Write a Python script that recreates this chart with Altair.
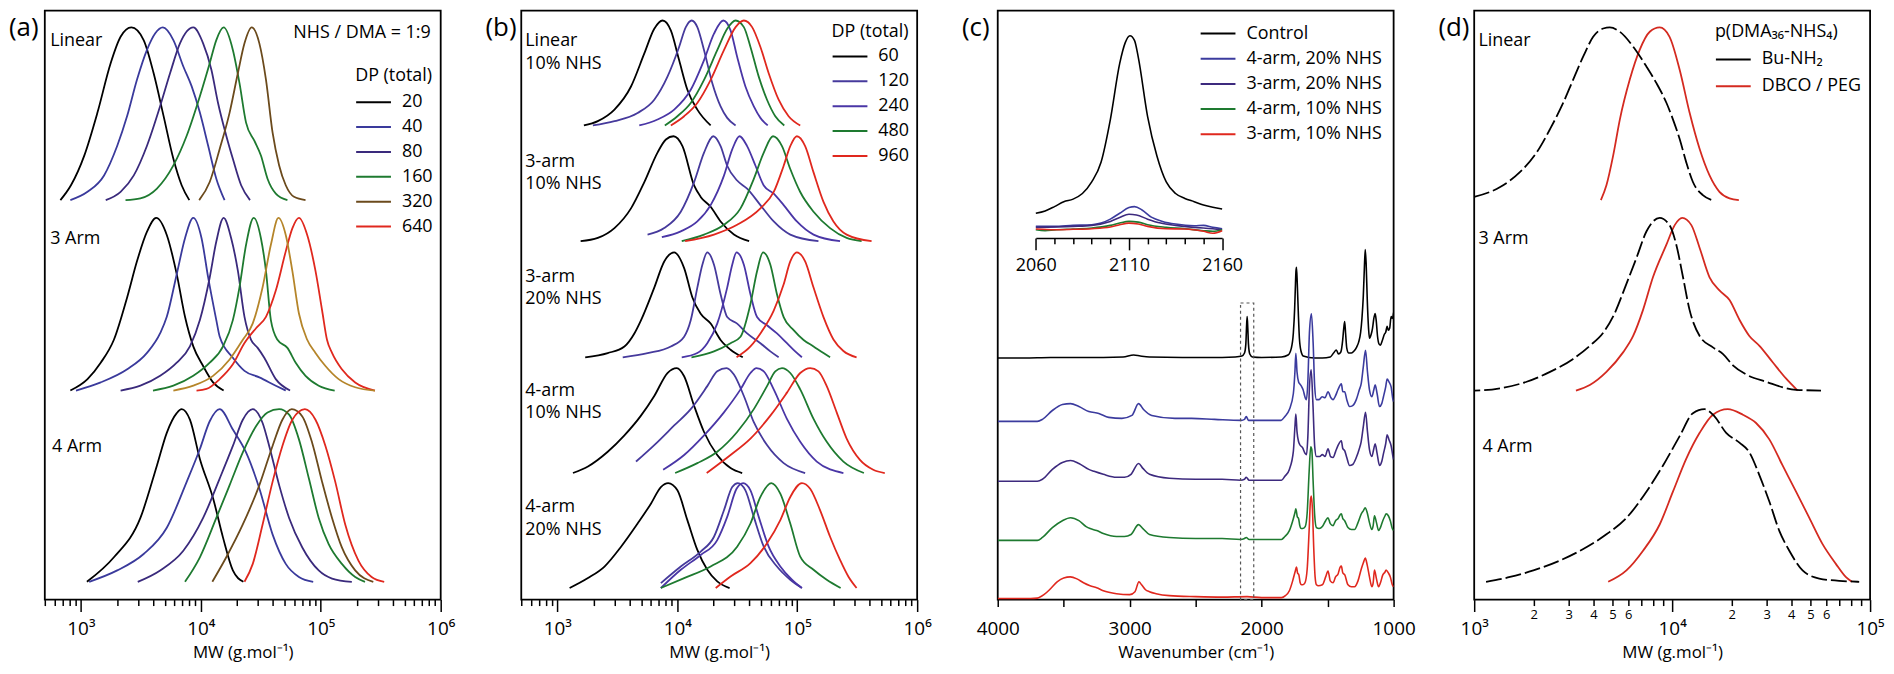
import altair as alt
import pandas as pd

FONT = "Open Sans"
W, H = 398, 592
K = H / 597.0
LW = 1.8

# ---------------- (a) GPC traces: log10(MW) and normalised RI ----------------
A_SERIES = ["20", "40", "80", "160", "320", "640"]
A_COLORS = ["#000000", "#3a3a9c", "#3a2a7c", "#1e7a30", "#6b4a1c", "#e0281e"]
A_OFFSETS = {"Linear": 2.314, "3 Arm": 1.211, "4 Arm": 0.103}

A_LINEAR = {
    "20": ([2.829, 2.917, 3.028, 3.138, 3.248, 3.331, 3.421, 3.523, 3.606, 3.689, 3.771, 3.840, 3.904],
           [0, 0.086, 0.258, 0.507, 0.793, 0.946, 1, 0.927, 0.736, 0.488, 0.239, 0.086, 0]),
    "40": ([2.912, 3.055, 3.193, 3.303, 3.386, 3.468, 3.551, 3.620, 3.683, 3.771, 3.854, 3.923, 3.992, 4.061, 4.129, 4.198],
           [0, 0.048, 0.143, 0.315, 0.488, 0.698, 0.870, 0.966, 1, 0.927, 0.774, 0.660, 0.507, 0.315, 0.124, 0]),
    "80": ([3.207, 3.331, 3.441, 3.551, 3.661, 3.744, 3.826, 3.937, 4.019, 4.088, 4.143, 4.212, 4.267, 4.336, 4.410],
           [0, 0.048, 0.143, 0.315, 0.545, 0.736, 0.908, 1, 0.908, 0.755, 0.564, 0.373, 0.239, 0.086, 0]),
    "160": ([3.372, 3.496, 3.634, 3.771, 3.882, 3.992, 4.074, 4.129, 4.190, 4.267, 4.322, 4.377, 4.446, 4.501, 4.556, 4.625, 4.722],
            [0, 0.010, 0.067, 0.201, 0.373, 0.602, 0.793, 0.927, 1, 0.870, 0.679, 0.449, 0.344, 0.258, 0.124, 0.038, 0]),
    "320": ([3.986, 4.074, 4.157, 4.240, 4.309, 4.364, 4.424, 4.488, 4.543, 4.598, 4.653, 4.708, 4.777, 4.873],
            [0, 0.105, 0.296, 0.507, 0.736, 0.908, 1, 0.908, 0.698, 0.392, 0.201, 0.086, 0.019, 0]),
}
A_3ARM = {
    "20": ([2.912, 3.055, 3.165, 3.275, 3.386, 3.468, 3.551, 3.628, 3.716, 3.799, 3.868, 3.937, 4.019, 4.102, 4.190],
           [0, 0.066, 0.161, 0.294, 0.541, 0.750, 0.920, 1, 0.901, 0.674, 0.427, 0.256, 0.142, 0.047, 0]),
    "40": ([2.959, 3.165, 3.386, 3.551, 3.661, 3.716, 3.799, 3.868, 3.937, 4.006, 4.061, 4.129, 4.157, 4.267, 4.364, 4.488, 4.625, 4.708],
           [0, 0.047, 0.123, 0.218, 0.332, 0.427, 0.674, 0.882, 1, 0.882, 0.655, 0.408, 0.313, 0.190, 0.114, 0.076, 0.028, 0]),
    "80": ([3.331, 3.496, 3.661, 3.799, 3.909, 3.992, 4.074, 4.129, 4.190, 4.253, 4.309, 4.364, 4.419, 4.474, 4.529, 4.625, 4.744],
           [0, 0.028, 0.085, 0.161, 0.256, 0.408, 0.655, 0.863, 1, 0.882, 0.693, 0.427, 0.294, 0.247, 0.190, 0.066, 0]),
    "160": ([3.601, 3.771, 3.937, 4.074, 4.185, 4.267, 4.322, 4.377, 4.441, 4.501, 4.543, 4.584, 4.639, 4.722, 4.791, 4.873, 4.983, 5.116],
            [0, 0.028, 0.085, 0.161, 0.256, 0.408, 0.598, 0.844, 1, 0.882, 0.693, 0.408, 0.294, 0.247, 0.161, 0.085, 0.028, 0]),
    "320": ([3.771, 3.937, 4.102, 4.240, 4.350, 4.433, 4.515, 4.584, 4.647, 4.708, 4.763, 4.818, 4.887, 4.956, 5.039, 5.149, 5.287, 5.452],
            [0, 0.028, 0.085, 0.180, 0.294, 0.389, 0.598, 0.844, 1, 0.901, 0.693, 0.446, 0.294, 0.218, 0.142, 0.066, 0.019, 0]),
    "640": ([3.964, 4.047, 4.157, 4.267, 4.364, 4.460, 4.543, 4.625, 4.708, 4.763, 4.818, 4.887, 4.956, 5.011, 5.052, 5.094, 5.176, 5.287, 5.452],
            [0, 0.009, 0.066, 0.152, 0.275, 0.361, 0.427, 0.579, 0.806, 0.939, 1, 0.901, 0.693, 0.465, 0.294, 0.218, 0.123, 0.047, 0]),
}
A_4ARM = {
    "20": ([3.050, 3.275, 3.496, 3.634, 3.716, 3.799, 3.840, 3.909, 3.992, 4.102, 4.185, 4.267, 4.355],
           [0, 0.142, 0.370, 0.674, 0.863, 0.977, 1, 0.939, 0.712, 0.484, 0.256, 0.066, 0]),
    "40": ([3.069, 3.303, 3.523, 3.716, 3.882, 3.992, 4.074, 4.157, 4.267, 4.377, 4.488, 4.598, 4.708, 4.818, 4.937],
           [0, 0.066, 0.161, 0.313, 0.579, 0.769, 0.930, 1, 0.882, 0.750, 0.541, 0.275, 0.104, 0.028, 0]),
    "80": ([3.474, 3.661, 3.854, 4.019, 4.157, 4.267, 4.350, 4.433, 4.515, 4.570, 4.653, 4.736, 4.846, 4.983, 5.094, 5.259],
           [0, 0.066, 0.180, 0.370, 0.598, 0.787, 0.939, 1, 0.920, 0.787, 0.560, 0.370, 0.199, 0.066, 0.019, 0]),
    "160": ([3.868, 3.992, 4.129, 4.240, 4.350, 4.460, 4.556, 4.653, 4.736, 4.818, 4.901, 4.983, 5.066, 5.176, 5.287, 5.369],
            [0, 0.142, 0.370, 0.560, 0.750, 0.901, 0.981, 1, 0.968, 0.825, 0.598, 0.370, 0.218, 0.104, 0.028, 0]),
    "320": ([4.096, 4.212, 4.350, 4.488, 4.598, 4.680, 4.758, 4.846, 4.928, 5.011, 5.094, 5.176, 5.287, 5.438],
            [0, 0.142, 0.332, 0.560, 0.787, 0.939, 1, 0.958, 0.806, 0.579, 0.370, 0.199, 0.066, 0]),
    "640": ([4.364, 4.433, 4.515, 4.598, 4.680, 4.763, 4.868, 4.956, 5.039, 5.121, 5.204, 5.314, 5.424, 5.529],
            [0, 0.104, 0.332, 0.579, 0.787, 0.939, 1, 0.939, 0.787, 0.579, 0.332, 0.123, 0.028, 0]),
}
A_NOTES = [("Linear", 555, 3.234), ("3 Arm", 555, 2.086), ("4 Arm", 575, 0.886)]
A_RATIO_NOTE = [("NHS / DMA = 1:9", 826000, 3.280)]

# ---------------- (b) ----------------
B_SERIES = ["60", "120", "240", "480", "960"]
B_COLORS = ["#000000", "#463a9c", "#4a36a6", "#1e7a30", "#e0281e"]
B_OFFSETS = {"Linear 10%": 4.518, "3-arm 10%": 3.415, "3-arm 20%": 2.309, "4-arm 10%": 1.206, "4-arm 20%": 0.110}

B_LINEAR = {
    "60": ([3.221, 3.337, 3.476, 3.614, 3.725, 3.808, 3.877, 3.946, 4.015, 4.084, 4.167, 4.278],
           [0, 0.041, 0.151, 0.371, 0.686, 0.921, 1, 0.906, 0.623, 0.340, 0.151, 0]),
    "120": ([3.296, 3.476, 3.669, 3.808, 3.918, 4.015, 4.071, 4.120, 4.167, 4.223, 4.292, 4.361, 4.416, 4.486],
            [0, 0.041, 0.119, 0.245, 0.465, 0.748, 0.937, 1, 0.937, 0.717, 0.403, 0.182, 0.072, 0]),
    "240": ([3.683, 3.835, 3.974, 4.112, 4.223, 4.306, 4.383, 4.444, 4.499, 4.568, 4.638, 4.693, 4.754],
            [0, 0.057, 0.151, 0.340, 0.623, 0.874, 1, 0.906, 0.654, 0.371, 0.182, 0.072, 0]),
    "480": ([3.896, 4.001, 4.112, 4.223, 4.333, 4.416, 4.486, 4.555, 4.610, 4.679, 4.748, 4.817, 4.892],
            [0, 0.088, 0.214, 0.434, 0.717, 0.921, 1, 0.937, 0.748, 0.465, 0.245, 0.088, 0]),
    "960": ([3.946, 4.057, 4.167, 4.278, 4.389, 4.486, 4.555, 4.624, 4.693, 4.762, 4.845, 4.928, 5.025],
            [0, 0.088, 0.214, 0.434, 0.717, 0.937, 1, 0.937, 0.748, 0.497, 0.245, 0.088, 0]),
}
B_3ARM10 = {
    "60": ([3.194, 3.337, 3.476, 3.614, 3.725, 3.835, 3.905, 3.968, 4.043, 4.140, 4.195, 4.278, 4.361, 4.472, 4.599],
           [0, 0.031, 0.125, 0.313, 0.563, 0.844, 0.969, 1, 0.906, 0.531, 0.422, 0.328, 0.188, 0.063, 0]),
    "120": ([3.752, 3.891, 4.029, 4.140, 4.223, 4.300, 4.361, 4.416, 4.499, 4.582, 4.693, 4.804, 4.942, 5.177],
            [0.063, 0.125, 0.281, 0.563, 0.844, 1, 0.906, 0.719, 0.578, 0.5, 0.344, 0.188, 0.063, 0]),
    "240": ([3.871, 4.029, 4.167, 4.278, 4.389, 4.458, 4.519, 4.582, 4.652, 4.721, 4.804, 4.887, 4.997, 5.136, 5.357],
            [0.038, 0.094, 0.188, 0.344, 0.625, 0.875, 1, 0.906, 0.719, 0.531, 0.453, 0.344, 0.188, 0.063, 0]),
    "480": ([4.037, 4.223, 4.389, 4.527, 4.638, 4.721, 4.798, 4.873, 4.942, 5.025, 5.136, 5.274, 5.412, 5.537],
            [0, 0.063, 0.156, 0.313, 0.594, 0.844, 1, 0.906, 0.688, 0.469, 0.281, 0.125, 0.031, 0]),
    "960": ([4.065, 4.306, 4.499, 4.693, 4.804, 4.887, 4.942, 4.997, 5.066, 5.136, 5.219, 5.302, 5.412, 5.620],
            [0, 0.063, 0.156, 0.313, 0.469, 0.719, 0.906, 1, 0.906, 0.656, 0.375, 0.188, 0.063, 0]),
}
B_3ARM20 = {
    "60": ([3.232, 3.420, 3.559, 3.642, 3.697, 3.808, 3.891, 3.974, 4.057, 4.126, 4.195, 4.278, 4.361, 4.444, 4.546],
           [0, 0.040, 0.103, 0.227, 0.352, 0.664, 0.913, 1, 0.850, 0.570, 0.414, 0.321, 0.165, 0.072, 0]),
    "120": ([3.545, 3.752, 3.946, 4.057, 4.112, 4.167, 4.209, 4.250, 4.306, 4.361, 4.416, 4.499, 4.582, 4.693, 4.776, 4.845],
            [0, 0.040, 0.103, 0.196, 0.352, 0.664, 0.882, 1, 0.882, 0.601, 0.383, 0.321, 0.227, 0.134, 0.056, 0]),
    "240": ([4.037, 4.167, 4.250, 4.333, 4.416, 4.458, 4.494, 4.555, 4.610, 4.665, 4.748, 4.831, 4.914, 4.983, 5.039],
            [0, 0.040, 0.134, 0.321, 0.664, 0.882, 1, 0.882, 0.601, 0.383, 0.305, 0.227, 0.134, 0.056, 0]),
    "480": ([4.118, 4.306, 4.444, 4.527, 4.610, 4.665, 4.715, 4.776, 4.831, 4.887, 4.970, 5.053, 5.136, 5.219, 5.274],
            [0, 0.056, 0.134, 0.196, 0.508, 0.819, 1, 0.882, 0.601, 0.383, 0.259, 0.165, 0.103, 0.040, 0]),
    "960": ([4.494, 4.610, 4.693, 4.804, 4.887, 4.942, 4.997, 5.066, 5.136, 5.219, 5.302, 5.385, 5.495],
            [0, 0.103, 0.227, 0.445, 0.695, 0.913, 1, 0.913, 0.664, 0.383, 0.170, 0.060, 0]),
}
B_4ARM10 = {
    "60": ([3.130, 3.255, 3.420, 3.559, 3.697, 3.808, 3.918, 3.996, 4.057, 4.140, 4.223, 4.333, 4.444, 4.541],
           [0, 0.063, 0.203, 0.359, 0.547, 0.734, 0.953, 1, 0.922, 0.641, 0.391, 0.172, 0.047, 0]),
    "120": ([3.656, 3.808, 3.974, 4.112, 4.250, 4.333, 4.411, 4.472, 4.555, 4.638, 4.748, 4.887, 5.066],
            [0.109, 0.266, 0.453, 0.609, 0.828, 0.969, 1, 0.938, 0.734, 0.484, 0.266, 0.094, 0]),
    "240": ([3.882, 4.057, 4.223, 4.389, 4.527, 4.610, 4.660, 4.721, 4.804, 4.914, 5.025, 5.163, 5.385],
            [0.031, 0.172, 0.359, 0.578, 0.797, 0.953, 1, 0.969, 0.797, 0.516, 0.297, 0.109, 0]),
    "480": ([3.982, 4.167, 4.333, 4.499, 4.638, 4.748, 4.817, 4.873, 4.942, 5.025, 5.136, 5.246, 5.385, 5.556],
            [0, 0.094, 0.203, 0.391, 0.609, 0.828, 0.969, 1, 0.953, 0.797, 0.516, 0.297, 0.109, 0]),
    "960": ([4.245, 4.444, 4.610, 4.776, 4.914, 5.025, 5.108, 5.177, 5.246, 5.329, 5.412, 5.523, 5.634, 5.730],
            [0, 0.172, 0.328, 0.547, 0.766, 0.953, 1, 0.969, 0.828, 0.578, 0.328, 0.125, 0.031, 0]),
}
B_4ARM20 = {
    "60": ([3.102, 3.255, 3.393, 3.531, 3.669, 3.780, 3.863, 3.924, 4.001, 4.084, 4.167, 4.250, 4.333, 4.436],
           [0, 0.095, 0.205, 0.394, 0.615, 0.804, 0.962, 1, 0.931, 0.647, 0.363, 0.174, 0.063, 0]),
    "120": ([3.863, 4.029, 4.195, 4.306, 4.389, 4.458, 4.505, 4.568, 4.638, 4.721, 4.831, 4.942, 5.039],
            [0.047, 0.205, 0.347, 0.489, 0.741, 0.962, 1, 0.931, 0.678, 0.394, 0.205, 0.079, 0]),
    "240": ([3.863, 4.029, 4.195, 4.333, 4.416, 4.494, 4.549, 4.610, 4.679, 4.762, 4.859, 4.956, 5.039],
            [0, 0.174, 0.315, 0.457, 0.678, 0.946, 1, 0.931, 0.678, 0.394, 0.205, 0.079, 0]),
    "480": ([3.863, 4.057, 4.278, 4.499, 4.610, 4.693, 4.784, 4.859, 4.942, 5.025, 5.136, 5.246, 5.362],
            [0, 0.095, 0.205, 0.394, 0.615, 0.868, 1, 0.899, 0.615, 0.300, 0.174, 0.079, 0]),
    "960": ([4.320, 4.444, 4.610, 4.748, 4.859, 4.942, 5.039, 5.108, 5.191, 5.274, 5.357, 5.426, 5.495],
            [0, 0.110, 0.237, 0.426, 0.647, 0.868, 1, 0.946, 0.741, 0.489, 0.268, 0.110, 0]),
}
B_NOTES = [("Linear", 5.320), ("10% NHS", 5.103), ("3-arm", 4.173), ("10% NHS", 3.957),
           ("3-arm", 3.073), ("20% NHS", 2.867), ("4-arm", 1.992), ("10% NHS", 1.776),
           ("4-arm", 0.883), ("20% NHS", 0.667)]
B_NOTE_MW = 540

# ---------------- (c) FTIR spectra: wavenumber, absorbance (a.u.) ----------------
C_SERIES = ["Control", "4-arm, 20% NHS", "3-arm, 20% NHS", "4-arm, 10% NHS", "3-arm, 10% NHS"]
C_COLORS = ["#000000", "#3b3b9e", "#3d2a7e", "#1e7a30", "#e0281e"]
C_OFFSETS = [245, 180.7, 120, 60, 1]

C_CONTROL = [(4000, 0), (3800, 0), (3600, 0.5), (3400, 0.5), (3200, 0.5), (3050, 1), (2970, 3), (2920, 2), (2850, 1),
             (2600, 0.5), (2300, 0.5), (2200, 1), (2150, 2), (2130, 5), (2120, 14), (2115, 30), (2110, 42), (2105, 30),
             (2100, 14), (2090, 4), (2070, 1), (2000, 0.5), (1850, 1), (1800, 3), (1775, 10), (1760, 25), (1750, 50),
             (1745, 70), (1740, 88), (1736, 92), (1730, 75), (1722, 45), (1714, 20), (1702, 7), (1685, 2), (1600, 0),
             (1540, 0), (1480, 1), (1455, 5), (1434, 8), (1418, 4), (1400, 6), (1386, 18), (1378, 30), (1371, 37),
             (1364, 25), (1355, 10), (1340, 5), (1320, 5), (1300, 7), (1280, 11), (1265, 16), (1250, 26), (1240, 40),
             (1230, 62), (1222, 90), (1215, 110), (1208, 95), (1200, 60), (1190, 30), (1183, 20), (1170, 24), (1160, 30),
             (1150, 40), (1140, 45), (1132, 38), (1122, 22), (1110, 14), (1100, 13), (1085, 18), (1070, 24), (1060, 26),
             (1049, 32), (1040, 28), (1030, 30), (1019, 42), (1010, 40), (1000, 46)]
C_4A20 = [(4000, 0), (3700, 0), (3661, 2), (3586, 11), (3510, 17), (3448, 18), (3385, 15), (3310, 10), (3234, 8),
          (3159, 4), (3059, 3), (2983, 6), (2933, 18), (2895, 12), (2833, 6), (2657, 3), (2531, 3), (2356, 2), (2155, 1),
          (2130, 2), (2117, 5), (2100, 1), (1900, 1), (1853, 1), (1824, 5), (1790, 12), (1760, 28), (1748, 50),
          (1741, 69), (1732, 50), (1720, 40), (1711, 38), (1700, 36), (1686, 32), (1670, 24), (1661, 22), (1650, 40),
          (1638, 90), (1623, 109), (1610, 80), (1598, 35), (1585, 22), (1565, 22), (1542, 25), (1520, 24), (1497, 30),
          (1475, 24), (1459, 22), (1440, 26), (1422, 32), (1396, 38), (1385, 30), (1371, 30), (1355, 22), (1334, 15),
          (1310, 16), (1283, 22), (1260, 32), (1246, 38), (1230, 55), (1213, 72), (1198, 50), (1183, 32), (1165, 25),
          (1150, 32), (1140, 37), (1125, 28), (1107, 15), (1090, 18), (1077, 25), (1060, 35), (1049, 43), (1035, 40),
          (1019, 35), (1005, 22), (1000, 20)]
C_3A20 = [(4000, 0), (3700, 0), (3661, 2), (3586, 12), (3510, 19), (3448, 21), (3385, 18), (3310, 12), (3270, 10),
          (3200, 7), (3100, 4), (3040, 4), (2990, 7), (2933, 18), (2900, 13), (2850, 7), (2700, 3), (2500, 2), (2300, 2),
          (2160, 1), (2130, 2), (2117, 4), (2095, 1), (1900, 1), (1850, 1), (1824, 5), (1790, 12), (1760, 30),
          (1748, 55), (1741, 68), (1732, 50), (1720, 40), (1711, 37), (1690, 34), (1670, 28), (1660, 27), (1650, 45),
          (1638, 95), (1625, 113), (1612, 80), (1598, 35), (1585, 25), (1560, 25), (1540, 27), (1520, 25), (1497, 33),
          (1478, 25), (1459, 24), (1440, 30), (1422, 36), (1396, 41), (1385, 33), (1371, 31), (1355, 24), (1334, 16),
          (1310, 17), (1283, 24), (1260, 33), (1246, 40), (1230, 55), (1213, 70), (1198, 50), (1183, 32), (1165, 25),
          (1150, 33), (1140, 38), (1125, 28), (1107, 16), (1090, 20), (1077, 28), (1060, 38), (1049, 47), (1035, 42),
          (1019, 36), (1005, 25), (1000, 22)]
C_4A10 = [(4000, 0), (3700, 0), (3661, 3), (3586, 13), (3510, 20), (3448, 23), (3385, 20), (3330, 14), (3300, 12),
          (3250, 10), (3200, 7), (3100, 4), (3040, 4), (2990, 6), (2933, 16), (2900, 12), (2850, 6), (2700, 3),
          (2500, 2), (2300, 2), (2160, 1), (2130, 2), (2117, 3), (2095, 1), (1900, 1), (1850, 1), (1824, 4), (1790, 10),
          (1760, 22), (1748, 28), (1741, 32), (1730, 24), (1720, 22), (1711, 15), (1700, 12), (1690, 12), (1670, 14),
          (1655, 28), (1640, 70), (1628, 95), (1620, 92), (1610, 60), (1598, 25), (1585, 13), (1565, 12), (1540, 14),
          (1515, 20), (1497, 23), (1480, 17), (1459, 15), (1440, 20), (1422, 22), (1405, 26), (1396, 27), (1385, 22),
          (1371, 20), (1346, 13), (1320, 11), (1296, 11), (1270, 18), (1245, 27), (1230, 30), (1215, 33), (1200, 28),
          (1183, 18), (1165, 11), (1155, 15), (1145, 25), (1130, 18), (1114, 10), (1100, 13), (1082, 20), (1065, 25),
          (1057, 27), (1040, 25), (1025, 20), (1010, 12), (1000, 10)]
C_3A10 = [(4000, 0), (3750, 0), (3700, 0.5), (3650, 4), (3600, 10), (3550, 17), (3500, 21), (3450, 22), (3400, 20),
          (3350, 16), (3300, 13), (3250, 11), (3200, 8), (3100, 5), (3000, 4), (2960, 7), (2930, 17), (2910, 14),
          (2880, 9), (2850, 7), (2800, 5), (2700, 3), (2500, 2), (2300, 1.5), (2110, 2), (2000, 1), (1850, 1),
          (1820, 3), (1790, 8), (1765, 18), (1745, 28), (1736, 32), (1728, 26), (1718, 24), (1708, 16), (1698, 14),
          (1690, 14), (1672, 16), (1655, 30), (1640, 70), (1630, 100), (1623, 104), (1615, 90), (1605, 50), (1595, 22),
          (1585, 14), (1570, 13), (1540, 14), (1515, 22), (1497, 28), (1480, 18), (1459, 16), (1440, 22), (1421, 25),
          (1405, 32), (1396, 33), (1385, 26), (1370, 24), (1346, 14), (1320, 12), (1296, 12), (1270, 18), (1245, 30),
          (1230, 36), (1215, 41), (1200, 34), (1183, 22), (1165, 12), (1155, 16), (1145, 29), (1130, 20), (1114, 12),
          (1100, 16), (1082, 24), (1065, 27), (1057, 29), (1040, 26), (1025, 22), (1010, 14), (1000, 12)]
C_SPECTRA = [C_CONTROL, C_4A20, C_3A20, C_4A10, C_3A10]

# inset (azide band), wavenumber and absorbance
INSET_RANGE = [2060, 2160]
I_CONTROL = [(2060, 25), (2065, 27.3), (2070, 31.7), (2075, 36.7), (2080, 39.3), (2085, 45), (2090, 56.7), (2095, 76.7),
             (2100, 120), (2105, 176.7), (2108, 198), (2110.5, 205), (2113, 200), (2115, 183), (2120, 123), (2125, 83),
             (2130, 56.7), (2135, 45), (2140, 40), (2145, 36.7), (2150, 33.3), (2155, 31), (2160, 29.3)]
I_4A20 = [(2060, 11.7), (2070, 11.7), (2080, 12.7), (2090, 13.3), (2095, 15), (2100, 19), (2105, 25), (2110, 30.7),
          (2113, 31.7), (2117, 28.3), (2122, 21), (2128, 16.7), (2135, 14), (2145, 12.3), (2150, 12.7), (2155, 10.7),
          (2160, 9.3)]
I_3A20 = [(2060, 10.7), (2080, 11.7), (2090, 12.7), (2100, 16.7), (2105, 20.7), (2110, 24), (2114, 23.3), (2120, 19),
          (2127, 15), (2135, 12.7), (2145, 10.7), (2155, 9.3), (2160, 8.3)]
I_4A10 = [(2060, 8.3), (2065, 7.3), (2070, 8), (2080, 9), (2090, 10), (2100, 12.7), (2105, 15), (2110, 16.7), (2115, 16),
          (2120, 13.3), (2130, 10.7), (2140, 9.3), (2150, 7.3), (2155, 6.7), (2160, 8.3)]
I_3A10 = [(2060, 9), (2070, 8.3), (2080, 8.7), (2090, 9.3), (2100, 11), (2105, 13.3), (2110, 15), (2115, 14), (2120, 11.7),
          (2130, 9.3), (2140, 9), (2150, 6.7), (2155, 4.7), (2160, 7.3)]
I_SPECTRA = [I_CONTROL, I_4A20, I_3A20, I_4A10, I_3A10]

# ---------------- (d) ----------------
D_SERIES = ["Bu-NH₂", "DBCO / PEG"]
D_COLORS = ["#000000", "#d42a20"]
D_LINEAR = {
    "Bu-NH₂": ([2.900, 3.000, 3.131, 3.232, 3.316, 3.383, 3.450, 3.500, 3.551, 3.601, 3.652, 3.685, 3.736, 3.803, 3.870,
                3.920, 3.971, 4.004, 4.038, 4.071, 4.105, 4.155, 4.202],
               [0, 0.019, 0.076, 0.163, 0.277, 0.411, 0.564, 0.698, 0.832, 0.946, 0.994, 1, 0.975, 0.889, 0.774, 0.679,
                0.564, 0.468, 0.354, 0.220, 0.105, 0.029, 0]),
    "DBCO / PEG": ([3.640, 3.668, 3.702, 3.736, 3.786, 3.836, 3.887, 3.937, 3.987, 4.038, 4.088, 4.139, 4.189, 4.239, 4.290, 4.337],
                   [0, 0.086, 0.258, 0.468, 0.698, 0.870, 0.975, 1, 0.946, 0.755, 0.507, 0.296, 0.143, 0.048, 0.010, 0]),
}
D_3ARM = {
    "Bu-NH₂": ([2.950, 3.000, 3.131, 3.265, 3.383, 3.500, 3.584, 3.652, 3.702, 3.769, 3.820, 3.870, 3.937, 3.987, 4.021,
                4.055, 4.088, 4.139, 4.206, 4.256, 4.307, 4.374, 4.474, 4.626, 4.752],
               [0, 0, 0.013, 0.051, 0.108, 0.183, 0.259, 0.335, 0.429, 0.618, 0.769, 0.921, 1, 0.958, 0.845, 0.656, 0.467,
                0.316, 0.250, 0.212, 0.146, 0.093, 0.051, 0.004, 0]),
    "DBCO / PEG": ([3.514, 3.584, 3.668, 3.752, 3.803, 3.853, 3.903, 3.971, 4.013, 4.051, 4.097, 4.139, 4.189, 4.239, 4.290,
                    4.340, 4.390, 4.441, 4.508, 4.575, 4.634],
                   [0, 0.032, 0.108, 0.221, 0.316, 0.467, 0.656, 0.845, 0.958, 1, 0.958, 0.826, 0.656, 0.580, 0.524, 0.410,
                    0.316, 0.259, 0.164, 0.070, 0]),
}
D_4ARM = {
    "Bu-NH₂": ([3.060, 3.181, 3.299, 3.433, 3.551, 3.668, 3.769, 3.870, 3.954, 4.038, 4.105, 4.164, 4.214, 4.273, 4.340,
                4.390, 4.441, 4.491, 4.542, 4.592, 4.659, 4.743, 4.844, 4.945],
               [0, 0.028, 0.066, 0.123, 0.190, 0.275, 0.370, 0.522, 0.674, 0.844, 0.977, 1, 0.958, 0.863, 0.806, 0.750,
                0.617, 0.465, 0.294, 0.180, 0.066, 0.019, 0.006, 0]),
    "DBCO / PEG": ([3.677, 3.769, 3.853, 3.937, 4.004, 4.071, 4.139, 4.206, 4.281, 4.357, 4.424, 4.491, 4.558, 4.626, 4.693,
                    4.760, 4.827, 4.877, 4.908],
                   [0, 0.066, 0.180, 0.332, 0.522, 0.712, 0.863, 0.968, 1, 0.968, 0.920, 0.825, 0.674, 0.522, 0.370, 0.218,
                    0.104, 0.028, 0]),
}
D_NOTES = [("Linear", 1051, 3.234), ("3 Arm", 1051, 2.086), ("4 Arm", 1101, 0.886)]


# ---------------- helpers ----------------
def curve_frame(groups):
    rows = []
    for group, offset, curves in groups:
        for series, (logs, vals) in curves.items():
            for lg, v in zip(logs, vals):
                rows.append({"group": group, "series": series, "key": group + "|" + series,
                             "mw": 10 ** lg, "y": v + offset})
    return pd.DataFrame(rows)


def spectra_frame(names, spectra, offsets):
    rows = []
    for name, spec, off in zip(names, spectra, offsets):
        for wn, h in spec:
            rows.append({"series": name, "wn": wn, "y": h + off})
    return pd.DataFrame(rows)


SUP = "['⁰','¹','²','³','⁴','⁵','⁶','⁷']"
DECADE_LABEL = "'10' + " + SUP + "[round(log(datum.value) / LN10)]"


def minor_values(lo, hi):
    out = []
    for e in range(1, 8):
        for m in range(2, 10):
            v = m * 10 ** e
            if lo <= v <= hi:
                out.append(v)
    return out


def major_axis(values, title):
    return alt.Axis(orient="bottom", values=values, labelExpr=DECADE_LABEL, tickSize=12, tickWidth=1.5,
                    tickColor="black", domain=False, grid=False, labelFontSize=19, labelPadding=8,
                    labelFont=FONT, labelColor="black", labelFlush=False, labelOverlap=False,
                    title=title, titleFontSize=17, titleFontWeight="normal", titleFont=FONT,
                    titleColor="black", titlePadding=6)


def minor_axis(values, labelled=False):
    if labelled:
        return alt.Axis(orient="bottom", values=values, tickSize=6, tickWidth=1.5, tickColor="black",
                        domain=False, grid=False, title=None, format="~s",
                        labelExpr="toNumber(slice(datum.label, 0, 1)) <= 6 ? slice(datum.label, 0, 1) : ''",
                        labelFontSize=13, labelPadding=3, labelFont=FONT, labelColor="black",
                        labelFlush=False, labelOverlap=False)
    return alt.Axis(orient="bottom", values=values, tickSize=6, tickWidth=1.5, tickColor="black",
                    domain=False, grid=False, title=None, labels=False)


def tick_layer(field, value, scale, axis):
    return alt.Chart(pd.DataFrame({field: [value]})).mark_point(opacity=0).encode(
        x=alt.X(field + ":Q", scale=scale, axis=axis))


def make_legend(title, x, y, tpad=9, rpad=7):
    kw = dict(orient="none", legendX=x, legendY=y, symbolType="stroke", symbolSize=1225,
              symbolStrokeWidth=2, symbolDash=[1, 0], clipHeight=16, rowPadding=rpad, labelOffset=10,
              labelFontSize=18, labelFont=FONT, labelColor="black", padding=0, labelLimit=300)
    if title:
        kw.update(title=title, titleFontSize=18, titleFontWeight="normal", titleFont=FONT,
                  titleColor="black", titlePadding=tpad, titleLimit=300)
    else:
        kw.update(title=None)
    return alt.Legend(**kw)


def panel_label(text):
    return alt.Chart(pd.DataFrame({"t": [text]})).mark_text(
        align="left", baseline="middle", fontSize=26, font=FONT, color="black").encode(
        x=alt.value(-36), y=alt.value(17), text="t:N")


def note_layer(rows, xfield, xscale, yscale, align="left"):
    df = pd.DataFrame(rows, columns=["text", xfield, "y"])
    return alt.Chart(df).mark_text(align=align, baseline="middle", fontSize=18, font=FONT,
                                   color="black").encode(
        x=alt.X(xfield + ":Q", scale=xscale, axis=None),
        y=alt.Y("y:Q", scale=yscale, axis=None), text="text:N")


MW_TITLE = "MW (g.mol⁻¹)"

# ---------------- panel (a) ----------------
xa = alt.Scale(type="log", domain=[500, 1e6], nice=False)
ya = alt.Scale(domain=[0, 3.411], nice=False, zero=False)
df_a = curve_frame([("Linear", A_OFFSETS["Linear"], A_LINEAR), ("3 Arm", A_OFFSETS["3 Arm"], A_3ARM),
                    ("4 Arm", A_OFFSETS["4 Arm"], A_4ARM)])
gold_key = "3 Arm|320"
lines_a = alt.Chart(df_a[df_a["key"] != gold_key]).mark_line(
    interpolate="monotone", strokeWidth=LW, clip=True).encode(
    x=alt.X("mw:Q", scale=xa, axis=major_axis([1e3, 1e4, 1e5, 1e6], MW_TITLE)),
    y=alt.Y("y:Q", scale=ya, axis=None),
    color=alt.Color("series:N", scale=alt.Scale(domain=A_SERIES, range=A_COLORS),
                    legend=make_legend("DP (total)", 312, 57, tpad=9)),
    detail="key:N")
gold_a = alt.Chart(df_a[df_a["key"] == gold_key]).mark_line(
    interpolate="monotone", strokeWidth=LW, clip=True, color="#b5852a").encode(
    x=alt.X("mw:Q", scale=xa, axis=None), y=alt.Y("y:Q", scale=ya, axis=None))
panel_a = alt.layer(
    lines_a, gold_a,
    note_layer(A_NOTES, "mw", xa, ya),
    note_layer(A_RATIO_NOTE, "mw", xa, ya, align="right"),
    tick_layer("mw", 1000.0, xa, minor_axis(minor_values(500, 1e6))),
    panel_label("(a)"),
).resolve_axis(x="independent").properties(width=W, height=H)

# ---------------- panel (b) ----------------
yb = alt.Scale(domain=[0, 5.611], nice=False, zero=False)
df_b = curve_frame([("Linear 10%", B_OFFSETS["Linear 10%"], B_LINEAR),
                    ("3-arm 10%", B_OFFSETS["3-arm 10%"], B_3ARM10),
                    ("3-arm 20%", B_OFFSETS["3-arm 20%"], B_3ARM20),
                    ("4-arm 10%", B_OFFSETS["4-arm 10%"], B_4ARM10),
                    ("4-arm 20%", B_OFFSETS["4-arm 20%"], B_4ARM20)])
lines_b = alt.Chart(df_b).mark_line(interpolate="monotone", strokeWidth=LW, clip=True).encode(
    x=alt.X("mw:Q", scale=xa, axis=major_axis([1e3, 1e4, 1e5, 1e6], MW_TITLE)),
    y=alt.Y("y:Q", scale=yb, axis=None),
    color=alt.Color("series:N", scale=alt.Scale(domain=B_SERIES, range=B_COLORS),
                    legend=make_legend("DP (total)", 312, 12, tpad=8)),
    detail="key:N")
panel_b = alt.layer(
    lines_b,
    note_layer([(t, B_NOTE_MW, y) for t, y in B_NOTES], "mw", xa, yb),
    tick_layer("mw", 1000.0, xa, minor_axis(minor_values(500, 1e6))),
    panel_label("(b)"),
).resolve_axis(x="independent").properties(width=W, height=H)

# ---------------- panel (c) ----------------
xc = alt.Scale(domain=[4000, 1000], nice=False, zero=False)
yc = alt.Scale(domain=[0, 597], nice=False, zero=False)
color_c = alt.Scale(domain=C_SERIES, range=C_COLORS)
legend_c = make_legend(None, 203, 15, rpad=7.3)
df_c = spectra_frame(C_SERIES, C_SPECTRA, C_OFFSETS)
axis_c = alt.Axis(orient="bottom", values=[4000, 3500, 3000, 2500, 2000, 1500, 1000],
                  labelExpr="datum.value % 1000 == 0 ? format(datum.value, 'd') : ''",
                  tickSize=7, tickWidth=1.5, tickColor="black", domain=False, grid=False,
                  labelFontSize=19, labelPadding=13, labelFont=FONT, labelColor="black",
                  labelFlush=False, labelOverlap=False, title="Wavenumber (cm⁻¹)", titleFontSize=17,
                  titleFontWeight="normal", titleFont=FONT, titleColor="black", titlePadding=6)
spectra_c = alt.Chart(df_c).mark_line(interpolate="monotone", strokeWidth=1.6, clip=True).encode(
    x=alt.X("wn:Q", scale=xc, axis=axis_c),
    y=alt.Y("y:Q", scale=yc, axis=None),
    color=alt.Color("series:N", scale=color_c, legend=legend_c))
box_c = alt.Chart(pd.DataFrame({"x": [INSET_RANGE[1]], "x2": [INSET_RANGE[0]], "y": [0], "y2": [300.7]})).mark_rect(
    filled=False, stroke="#555555", strokeDash=[3, 3], strokeWidth=1.2).encode(
    x=alt.X("x:Q", scale=xc, axis=None), x2="x2:Q",
    y=alt.Y("y:Q", scale=yc, axis=None), y2="y2:Q")

xi = alt.Scale(domain=INSET_RANGE, range=[38.3, 225.6], nice=False, zero=False)
yi = alt.Scale(domain=[0, 205], range=[230.3 * K, 25.3 * K], nice=False, zero=False)
inset_offset = 230.3 * K - H
df_i = spectra_frame(C_SERIES, I_SPECTRA, [0, 0, 0, 0, 0])
inset_axis = alt.Axis(orient="bottom", offset=inset_offset, values=[2060, 2110, 2160], format="d",
                      tickSize=12, tickWidth=1.5, tickColor="black", domain=True, domainColor="black",
                      domainWidth=1.5, grid=False, labelFontSize=18, labelPadding=7, labelFont=FONT,
                      labelColor="black", labelFlush=False, labelOverlap=False, title=None)
inset_lines = alt.Chart(df_i).mark_line(interpolate="monotone", strokeWidth=1.6).encode(
    x=alt.X("wn:Q", scale=xi, axis=inset_axis),
    y=alt.Y("y:Q", scale=yi, axis=None),
    color=alt.Color("series:N", scale=color_c, legend=legend_c))
inset_minor = tick_layer("wn", 2100.0, xi, alt.Axis(
    orient="bottom", offset=inset_offset, values=[2070, 2080, 2090, 2100, 2120, 2130, 2140, 2150],
    tickSize=6, tickWidth=1.5, tickColor="black", domain=False, grid=False, labels=False, title=None))
panel_c = alt.layer(spectra_c, box_c, inset_lines, inset_minor, panel_label("(c)")).resolve_scale(
    x="independent", y="independent").properties(width=W, height=H)

# ---------------- panel (d) ----------------
xd = alt.Scale(type="log", domain=[1000, 1e5], nice=False)
df_d = curve_frame([("Linear", A_OFFSETS["Linear"], D_LINEAR), ("3 Arm", A_OFFSETS["3 Arm"], D_3ARM),
                    ("4 Arm", A_OFFSETS["4 Arm"], D_4ARM)])
# solid curves (carry the colour legend, both entries from the scale domain)
solid_d = alt.Chart(df_d[df_d["series"] == D_SERIES[1]]).mark_line(
    interpolate="monotone", strokeWidth=LW, clip=True).encode(
    x=alt.X("mw:Q", scale=xd, axis=major_axis([1e3, 1e4, 1e5], MW_TITLE)),
    y=alt.Y("y:Q", scale=ya, axis=None),
    color=alt.Color("series:N", scale=alt.Scale(domain=D_SERIES, range=D_COLORS),
                    legend=make_legend("p(DMA₃₆-NHS₄)", 242, 12, tpad=11, rpad=9)),
    detail="key:N")
# dashed Bu-NH2 curves
dashed_d = alt.Chart(df_d[df_d["series"] == D_SERIES[0]]).mark_line(
    interpolate="monotone", strokeWidth=LW, clip=True, color=D_COLORS[0], strokeDash=[16, 4]).encode(
    x=alt.X("mw:Q", scale=xd, axis=None),
    y=alt.Y("y:Q", scale=ya, axis=None),
    detail="key:N")
panel_d = alt.layer(
    solid_d, dashed_d,
    note_layer(D_NOTES, "mw", xd, ya),
    tick_layer("mw", 2000.0, xd, minor_axis(minor_values(1000, 1e5), labelled=True)),
    panel_label("(d)"),
).resolve_axis(x="independent").properties(width=W, height=H)

chart = alt.hconcat(panel_a, panel_b, panel_c, panel_d, spacing=81, bounds="flush").resolve_scale(
    color="independent").properties(
    padding={"left": 0, "top": 0, "right": 0, "bottom": 0}).configure(font=FONT).configure_view(
    stroke="black", strokeWidth=1.8)

chart.save("out.html", embed_options={"renderer": "svg", "actions": False})
